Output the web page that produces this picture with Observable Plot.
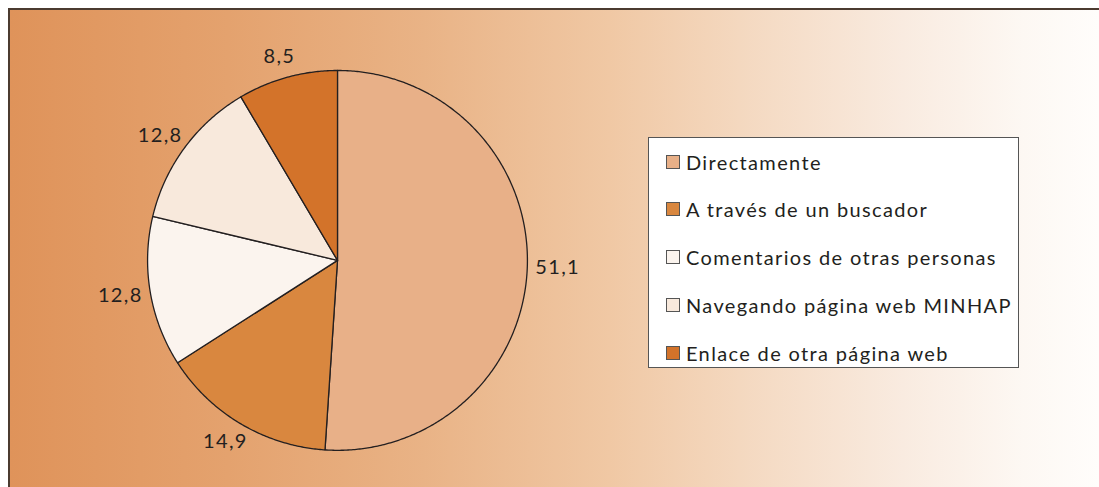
<!DOCTYPE html>
<html><head><meta charset="utf-8">
<script src="https://cdn.jsdelivr.net/npm/d3@7"></script>
<script src="https://cdn.jsdelivr.net/npm/@observablehq/plot@0.6"></script>
<style>
html,body{margin:0;padding:0;background:#fff;}
#wrap{position:relative;width:1099px;height:487px;overflow:hidden;font-family:Lato,"Open Sans",sans-serif;color:#231f20;}
#bg{position:absolute;left:8px;top:8px;right:0;bottom:0;background:linear-gradient(to right,#df935a 0%,#e4a26e 20%,#e9b386 38%,#f0c8a4 55%,#f5dcc6 70%,#f9ebe0 82%,#fdf8f3 93%,#fffdfb 100%);border-left:2px solid #4b3b30;border-top:2px solid #4b3b30;}
#chart{position:absolute;left:0;top:0;}
#legend{position:absolute;left:648px;top:137px;width:371px;height:231px;background:#fff;border:1.5px solid #555;box-sizing:border-box;}
.row{position:absolute;left:17px;height:30px;display:flex;align-items:center;font-size:20px;letter-spacing:1.35px;white-space:nowrap;}
.sw{width:14px;height:14px;box-sizing:border-box;border:1px solid #555;margin-right:6px;flex:none;}
</style></head>
<body><div id="wrap"><div id="bg"></div><div id="chart"></div><div id="legend"></div></div>
<script>
const categories = ["Directamente","A través de un buscador","Comentarios de otras personas","Navegando página web MINHAP","Enlace de otra página web"];
const values = [51.1,14.9,12.8,12.8,8.5];
const valueLabels = ["51,1","14,9","12,8","12,8","8,5"];
const colors = ["#e8b088","#d9873f","#fbf4ee","#f8e9dc","#d3732a"];

const total = d3.sum(values);
let cum = 0;
const slices = categories.map((c,i)=>{
  const a0 = cum/total*2*Math.PI; cum += values[i]; const a1 = cum/total*2*Math.PI;
  return {category:c, value:values[i], label:valueLabels[i], a0, a1, mid:(a0+a1)/2};
});
const pt = (a,r)=>[r*Math.sin(a), -r*Math.cos(a)];
const features = slices.map(s=>{
  const n = Math.max(2, Math.ceil((s.a1-s.a0)/(Math.PI/360)));
  const ring = [[0,0]];
  for (let k=0;k<=n;k++) ring.push(pt(s.a0+(s.a1-s.a0)*k/n,1));
  ring.push([0,0]);
  return {type:"Feature", properties:s, geometry:{type:"Polygon", coordinates:[ring]}};
});
// projection frame (unit = pie radius), leaves room for the outside labels
const frameX = [-1.4, 1.4], frameY = [-1.3, 1.18];
const frame = {type:"Polygon", coordinates:[[[frameX[0],frameY[0]],[frameX[1],frameY[0]],[frameX[1],frameY[1]],[frameX[0],frameY[1]],[frameX[0],frameY[0]]]]};
const LRX = 1.16, LRY = 1.11;

const chart = Plot.plot({
  width:1099, height:487,
  marginLeft:71, marginRight:496, marginTop:13, marginBottom:3,
  projection:{type:"identity", domain:frame},
  color:{domain:categories, range:colors},
  style:{background:"transparent", fontFamily:"Lato, 'Open Sans', sans-serif", letterSpacing:"1.35px"},
  marks:[
    Plot.geo(features, {fill:d=>d.properties.category, stroke:"#231f20", strokeWidth:1.3}),
    Plot.text(slices, {x:d=>pt(d.mid,LRX)[0], y:d=>pt(d.mid,LRY)[1], text:"label", fontSize:20, fill:"#231f20"})
  ]
});
document.getElementById("chart").appendChild(chart);

const leg = document.getElementById("legend");
categories.forEach((c,i)=>{
  const row = document.createElement("div");
  row.className = "row";
  row.style.top = (25 + i*47.75 - 15 - 1.5) + "px";
  const sw = document.createElement("div"); sw.className="sw"; sw.style.background = colors[i];
  const t = document.createElement("span"); t.textContent = c;
  row.appendChild(sw); row.appendChild(t); leg.appendChild(row);
});
</script></body></html>
